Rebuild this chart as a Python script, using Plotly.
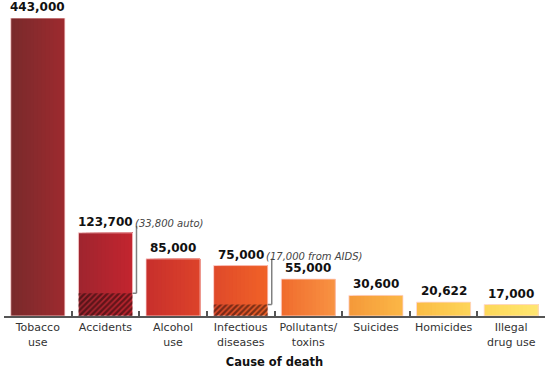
import plotly.graph_objects as go

categories = ["Tobacco<br>use", "Accidents", "Alcohol<br>use", "Infectious<br>diseases",
              "Pollutants/<br>toxins", "Suicides", "Homicides", "Illegal<br>drug use"]
deaths = [443000, 123700, 85000, 75000, 55000, 30600, 20622, 17000]
value_labels = ["443,000", "123,700", "85,000", "75,000", "55,000", "30,600", "20,622", "17,000"]
sub_values = [0, 33800, 0, 17000, 0, 0, 0, 0]
sub_notes = {1: "(33,800 auto)", 3: "(17,000 from AIDS)"}

left_colors = ["#7a2a2c", "#a0252f", "#c8302c", "#e04a2a", "#f06c2e", "#f59a3a", "#fbbd46", "#fdd85a"]
right_colors = ["#9c2a2e", "#c2252f", "#dc422a", "#f06228", "#f89242", "#fbb646", "#fdd458", "#ffe670"]


def hex2rgb(h):
    h = h.lstrip("#")
    return tuple(int(h[i:i + 2], 16) for i in (0, 2, 4))


def mix(a, b, t):
    ra, rb = hex2rgb(a), hex2rgb(b)
    return "rgb(%d,%d,%d)" % tuple(round(ra[k] + (rb[k] - ra[k]) * t) for k in range(3))


fig = go.Figure()
BW = 0.8
N = 14
for s in range(N):
    t = s / (N - 1)
    fig.add_trace(go.Bar(
        x=categories, y=deaths,
        width=BW - s * BW / N, offset=-BW / 2 + s * BW / N,
        marker=dict(color=[mix(l, r, t) for l, r in zip(left_colors, right_colors)], line=dict(width=0)),
        hoverinfo="skip", showlegend=False,
    ))

# thin light outline around each bar
fig.add_trace(go.Bar(
    x=categories, y=deaths, width=BW, offset=-BW / 2,
    marker=dict(color="rgba(0,0,0,0)", line=dict(color="rgba(255,215,215,0.8)", width=1)),
    hoverinfo="skip", showlegend=False,
))

# hatched sub-portions
fig.add_trace(go.Bar(
    x=categories, y=sub_values, width=BW, offset=-BW / 2,
    marker=dict(color="rgba(0,0,0,0)", line=dict(width=0),
                pattern=dict(shape="/", fgcolor="#0d0404", bgcolor="rgba(0,0,0,0)",
                             size=4, solidity=0.6, fillmode="overlay")),
    hoverinfo="skip", showlegend=False,
))

annotations = []
for i, (c, v, lab) in enumerate(zip(categories, deaths, value_labels)):
    annotations.append(dict(
        x=c, y=v, text="<b>%s</b>" % lab, showarrow=False, yanchor="bottom", yshift=2,
        font=dict(family="DejaVu Sans", size=12, color="#111111"),
    ))

note_shift = {1: 28, 3: 23}
shapes = []
ypx = 443000 / 298.0
for i, note in sub_notes.items():
    annotations.append(dict(
        x=categories[i], y=deaths[i], text="<i>%s</i>" % note, showarrow=False,
        xanchor="left", yanchor="bottom", yshift=2, xshift=note_shift[i],
        font=dict(family="DejaVu Sans", size=10, color="#444444"),
    ))
    xr = i + BW / 2
    xl = xr + 4 / 67.6
    shapes.append(dict(type="line", xref="x", yref="y", x0=xr, x1=xl,
                       y0=sub_values[i], y1=sub_values[i], line=dict(color="#808080", width=1.5)))
    shapes.append(dict(type="line", xref="x", yref="y", x0=xl, x1=xl,
                       y0=sub_values[i], y1=deaths[i] + 7 * ypx, line=dict(color="#808080", width=1.5)))

fig.update_layout(
    width=550, height=370,
    margin=dict(l=4, r=5, t=18, b=54),
    paper_bgcolor="white", plot_bgcolor="white",
    barmode="overlay", bargap=0.2,
    showlegend=False,
    annotations=annotations, shapes=shapes,
    font=dict(family="DejaVu Sans", size=11, color="#333333"),
    xaxis=dict(
        type="category", tickson="boundaries", ticks="inside", ticklen=5, tickwidth=1.5,
        tickcolor="#555555", showline=True, linecolor="#555555", linewidth=2,
        tickfont=dict(family="DejaVu Sans", size=11, color="#333333"),
        title=dict(text="<b>Cause of death</b>", standoff=10,
                   font=dict(family="DejaVu Sans", size=11.5, color="#111111")),
        showgrid=False, zeroline=False, fixedrange=True,
    ),
    yaxis=dict(range=[0, 443000], visible=False, showgrid=False, zeroline=False, fixedrange=True),
)

fig.write_html("out.html", config={"displayModeBar": False},
               post_script="document.body.style.margin='0';document.body.style.overflow='hidden';")
